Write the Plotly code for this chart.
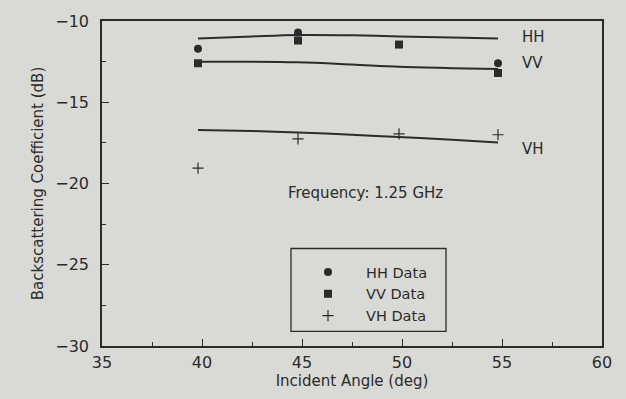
import plotly.graph_objects as go

# Measured backscatter at 1.25 GHz
angles = [39.8, 44.8, 49.85, 54.8]
hh_angles = [39.8, 44.8, 54.8]
hh_data = [-11.7, -10.7, -12.6]
vv_data = [-12.6, -11.2, -11.45, -13.2]
vh_data = [-19.05, -17.25, -16.95, -17.0]

# Model curves
model_angles = [39.8, 42.5, 44.8, 47.5, 49.85, 52.5, 54.8]
hh_model = [-11.08, -10.95, -10.86, -10.88, -10.95, -11.02, -11.08]
vv_model = [-12.5, -12.5, -12.54, -12.68, -12.82, -12.9, -12.96]
vh_model = [-16.7, -16.77, -16.86, -17.0, -17.14, -17.3, -17.47]

curve_labels = ["HH", "VV", "VH"]
curve_label_y = [-11.0, -12.6, -17.9]

ink = "#2b2b2b"
paper = "#d9d9d5"
font_family = "DejaVu Sans"

fig = go.Figure()

for ys in (hh_model, vv_model, vh_model):
    fig.add_trace(go.Scatter(x=model_angles, y=ys, mode="lines",
                             line=dict(color=ink, width=2, shape="spline"),
                             showlegend=False, hoverinfo="skip"))

fig.add_trace(go.Scatter(x=hh_angles, y=hh_data, mode="markers", name="HH Data",
                         marker=dict(symbol="circle", size=8, color=ink)))
fig.add_trace(go.Scatter(x=angles, y=vv_data, mode="markers", name="VV Data",
                         marker=dict(symbol="square", size=8, color=ink)))
fig.add_trace(go.Scatter(x=angles, y=vh_data, mode="markers", name="VH Data",
                         marker=dict(symbol="cross-thin", size=8, color=ink,
                                     line=dict(width=1.2, color=ink))))

for lab, yv in zip(curve_labels, curve_label_y):
    fig.add_annotation(x=55.9, y=yv, text=lab, showarrow=False, xanchor="left",
                       font=dict(size=15, color=ink, family=font_family))

fig.add_annotation(x=48.15, y=-20.6, text="Frequency: 1.25 GHz", showarrow=False,
                   font=dict(size=15, color=ink, family=font_family))

# Legend frame
fig.add_shape(type="rect", xref="paper", yref="paper",
              x0=0.378, x1=0.688, y0=0.045, y1=0.30,
              line=dict(color=ink, width=1.3), fillcolor="rgba(0,0,0,0)")

axis_common = dict(
    showgrid=False, zeroline=False, showline=True, linecolor=ink, linewidth=1.5,
    mirror=True, ticks="inside", ticklen=7, tickwidth=1, tickcolor=ink,
    tickfont=dict(size=16, color=ink, family=font_family),
    title_font=dict(size=15, color=ink, family=font_family),
)

fig.update_xaxes(range=[35, 60], dtick=5, tick0=35,
                 minor=dict(ticks="inside", ticklen=4, dtick=2.5, tickcolor=ink),
                 title_text="Incident Angle (deg)", title_standoff=4,
                 ticklabelstandoff=1, **axis_common)
fig.update_yaxes(range=[-30, -10], dtick=5, tick0=-30,
                 minor=dict(ticks="inside", ticklen=4, dtick=2.5, tickcolor=ink),
                 title_text="Backscattering Coefficient (dB)", title_standoff=8,
                 ticklabelstandoff=8, **axis_common)

fig.update_layout(
    width=626, height=399,
    margin=dict(l=102, r=24, t=15, b=53),
    paper_bgcolor=paper, plot_bgcolor=paper,
    font=dict(family=font_family, color=ink),
    legend=dict(x=0.376, y=0.277, xanchor="left", yanchor="top",
                bgcolor="rgba(0,0,0,0)", borderwidth=0,
                font=dict(size=14.5, color=ink, family=font_family),
                itemwidth=66, tracegroupgap=0),
)

fig.write_html("out.html")
